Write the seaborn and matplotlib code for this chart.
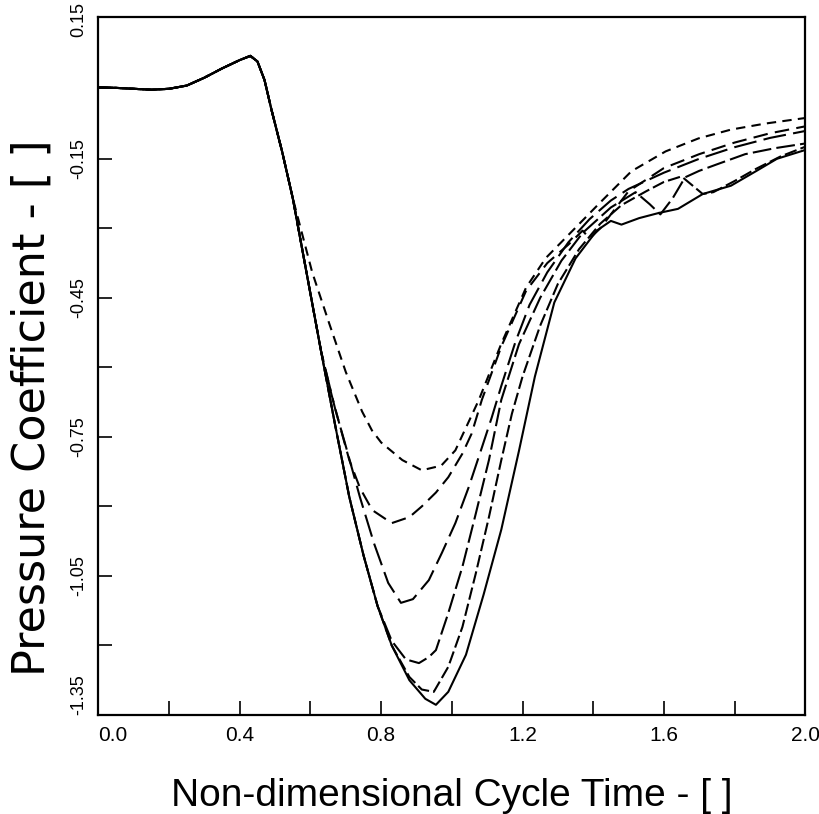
import numpy as np
import pandas as pd
import matplotlib
matplotlib.use("Agg")
import matplotlib.pyplot as plt
import seaborn as sns

# ---- data ----
common_t = [0.00, 0.05, 0.10, 0.15, 0.20, 0.25, 0.30, 0.35, 0.40, 0.43, 0.45, 0.47, 0.49, 0.52, 0.55]
common_cp = [0.004, 0.003, 0.001, -0.001, 0.001, 0.008, 0.025, 0.045, 0.063, 0.072, 0.060, 0.020, -0.045, -0.135, -0.235]

a_t = [0.605, 0.653, 0.70, 0.746, 0.774, 0.80, 0.86, 0.915, 0.97, 1.01, 1.04, 1.076, 1.14, 1.21, 1.266, 1.32, 1.415, 1.508, 1.605, 1.698, 1.79, 1.887, 2.0]
a_cp = [-0.395, -0.505, -0.61, -0.695, -0.736, -0.762, -0.80, -0.822, -0.812, -0.779, -0.73, -0.671, -0.549, -0.428, -0.364, -0.322, -0.248, -0.177, -0.134, -0.106, -0.087, -0.074, -0.062]

b_t = [0.59, 0.63, 0.66, 0.69, 0.71, 0.74, 0.775, 0.83, 0.88, 0.915, 0.955, 0.99, 1.03, 1.056, 1.085, 1.14, 1.21, 1.27, 1.33, 1.37, 1.39, 1.42, 1.5, 1.6, 1.7, 1.8, 1.9, 2.0]
b_cp = [-0.40, -0.565, -0.66, -0.745, -0.80, -0.86, -0.908, -0.936, -0.923, -0.90, -0.87, -0.837, -0.786, -0.743, -0.67, -0.555, -0.435, -0.375, -0.335, -0.305, -0.322, -0.30, -0.22, -0.17, -0.14, -0.115, -0.095, -0.08]

c_t = [0.59, 0.63, 0.67, 0.70, 0.74, 0.78, 0.82, 0.856, 0.89, 0.935, 0.972, 1.01, 1.048, 1.085, 1.113, 1.14, 1.18, 1.22, 1.27, 1.33, 1.39, 1.45, 1.5, 1.6, 1.7, 1.8, 1.9, 2.0]
c_cp = [-0.40, -0.565, -0.69, -0.77, -0.88, -0.98, -1.065, -1.108, -1.10, -1.059, -1.0, -0.936, -0.858, -0.773, -0.708, -0.64, -0.545, -0.465, -0.395, -0.33, -0.28, -0.24, -0.215, -0.18, -0.15, -0.125, -0.105, -0.09]

d_t = [0.59, 0.63, 0.67, 0.71, 0.75, 0.79, 0.83, 0.87, 0.907, 0.935, 0.955, 0.99, 1.03, 1.068, 1.105, 1.14, 1.19, 1.25, 1.31, 1.37, 1.45, 1.52, 1.56, 1.59, 1.625, 1.66, 1.70, 1.75, 1.83, 1.915, 2.0]
d_cp = [-0.40, -0.565, -0.725, -0.88, -1.005, -1.115, -1.19, -1.23, -1.238, -1.225, -1.21, -1.13, -1.03, -0.915, -0.80, -0.67, -0.55, -0.45, -0.37, -0.31, -0.255, -0.222, -0.248, -0.27, -0.235, -0.19, -0.176, -0.162, -0.14, -0.127, -0.117]

e_t = [0.59, 0.63, 0.67, 0.71, 0.75, 0.79, 0.83, 0.88, 0.915, 0.949, 0.99, 1.03, 1.068, 1.105, 1.14, 1.17, 1.20, 1.25, 1.30, 1.36, 1.42, 1.48, 1.55, 1.60, 1.65, 1.71, 1.74, 1.80, 1.86, 1.93, 2.0]
e_cp = [-0.40, -0.565, -0.725, -0.88, -1.005, -1.115, -1.20, -1.268, -1.295, -1.30, -1.246, -1.16, -1.044, -0.923, -0.80, -0.70, -0.62, -0.51, -0.42, -0.345, -0.29, -0.25, -0.22, -0.20, -0.188, -0.226, -0.222, -0.198, -0.172, -0.145, -0.124]

f_t = [0.59, 0.63, 0.67, 0.71, 0.75, 0.79, 0.83, 0.88, 0.925, 0.955, 0.99, 1.04, 1.09, 1.14, 1.19, 1.235, 1.29, 1.35, 1.41, 1.45, 1.48, 1.53, 1.585, 1.64, 1.71, 1.79, 1.86, 1.92, 2.0]
f_cp = [-0.40, -0.565, -0.725, -0.88, -1.005, -1.115, -1.20, -1.275, -1.315, -1.328, -1.30, -1.22, -1.09, -0.95, -0.78, -0.62, -0.46, -0.365, -0.305, -0.284, -0.292, -0.278, -0.267, -0.258, -0.226, -0.208, -0.177, -0.15, -0.131]

case_names = ["A", "B", "C", "D", "E", "F"]
tails = {"A": (a_t, a_cp), "B": (b_t, b_cp), "C": (c_t, c_cp),
         "D": (d_t, d_cp), "E": (e_t, e_cp), "F": (f_t, f_cp)}

y_ticks = [0.15, -0.15, -0.45, -0.75, -1.05, -1.35]
y_minor = [-0.30, -0.60, -0.90, -1.20]
y_labels = ["0.15", "-0.15", "-0.45", "-0.75", "-1.05", "-1.35"]
x_ticks = [0.0, 0.4, 0.8, 1.2, 1.6, 2.0]
x_minor = [0.2, 0.6, 1.0, 1.4, 1.8]
x_labels = ["0.0", "0.4", "0.8", "1.2", "1.6", "2.0"]

# ---- build long table ----
rows = []
for name in case_names:
    t, cp = tails[name]
    for ti, ci in zip(common_t + list(t), common_cp + list(cp)):
        rows.append((name, ti, ci))
df = pd.DataFrame(rows, columns=["case", "t", "cp"])

sns.set_theme(style="white")
plt.rcParams["font.family"] = ["Liberation Sans", "DejaVu Sans"]

fig = plt.figure(figsize=(8.2, 8.14), dpi=100)
ax = fig.add_axes([0.120, 0.1216, 0.862, 0.857])

dash_map = {"A": (4.5, 3.0), "B": (7, 3.5), "C": (11, 3.5),
            "D": (9, 2.5), "E": (6, 2.0), "F": ""}
sns.lineplot(data=df, x="t", y="cp", style="case", dashes=dash_map,
             color="black", linewidth=1.5, estimator=None, sort=True,
             legend=False, ax=ax)

ax.set_xlim(0.0, 2.0)
ax.set_ylim(-1.35, 0.155)
ax.set_xticks(x_ticks)
ax.set_xticks(x_minor, minor=True)
ax.set_yticks(y_ticks)
ax.set_yticks(y_minor, minor=True)
xt = ax.set_xticklabels(x_labels, fontsize=15)
yt = ax.set_yticklabels(y_labels, rotation=90, va="center", fontsize=13)
xt[0].set_ha("left")
yt[-1].set_va("bottom")

ax.tick_params(axis="both", which="both", direction="in", length=10,
               width=1.2, color="black", labelcolor="black",
               bottom=True, left=True, top=False, right=False)
ax.tick_params(axis="x", which="major", pad=8)
ax.tick_params(axis="y", which="major", pad=8)
# no tick mark drawn at the top corner (0.15)
ax.yaxis.get_major_ticks()[0].tick1line.set_visible(False)

for s in ax.spines.values():
    s.set_color("black")
    s.set_linewidth(1.6)

ax.set_xlabel("Non-dimensional Cycle Time - [ ]", fontsize=28, color="black")
ax.xaxis.set_label_coords(0.5, -0.090)
ax.set_ylabel("Pressure Coefficient - [ ]", fontsize=32, color="black",
              family=["DejaVu Sans"])
ax.yaxis.set_label_coords(-0.064, 0.44)
ax.grid(False)

fig.savefig("out.png", dpi=100, facecolor="white")
